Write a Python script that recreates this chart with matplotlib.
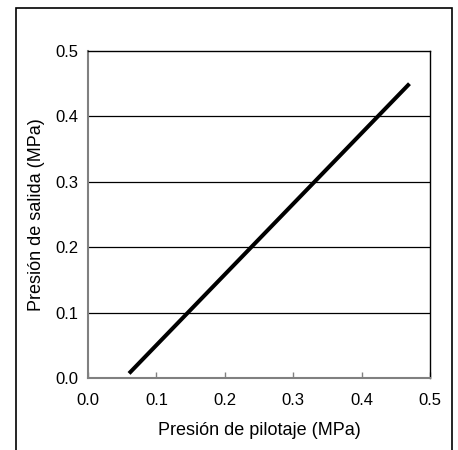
import matplotlib
matplotlib.use("Agg")
import matplotlib.pyplot as plt
from matplotlib.patches import Rectangle

# pilot pressure vs output pressure
pilot_mpa = [0.06, 0.47]
output_mpa = [0.007, 0.45]

x_ticks = [0.0, 0.1, 0.2, 0.3, 0.4, 0.5]
y_ticks = [0.0, 0.1, 0.2, 0.3, 0.4, 0.5]

plt.rcParams['font.family'] = ['Liberation Sans', 'DejaVu Sans']

fig = plt.figure(figsize=(4.58, 4.5), dpi=100)

# outer frame round the chart (bottom edge runs off the picture)
frame = Rectangle((16 / 458, -0.05), (452 - 16) / 458, 1 - 8 / 450 + 0.05,
                  transform=fig.transFigure, fill=False, edgecolor='black',
                  linewidth=1.2, zorder=0)
fig.patches.append(frame)

ax = fig.add_axes([88 / 458, 1 - 378 / 450, (430 - 88) / 458, (378 - 51) / 450])

for y in y_ticks[1:-1]:
    ax.axhline(y, color='black', linewidth=0.9, zorder=1)

ax.plot(pilot_mpa, output_mpa, color='black', linewidth=2.9,
        solid_capstyle='butt', zorder=3)

ax.set_xlim(0, 0.5)
ax.set_ylim(0, 0.5)
ax.set_xticks(x_ticks)
ax.set_yticks(y_ticks)
ax.set_xticklabels([f"{t:.1f}" for t in x_ticks])
ax.set_yticklabels([f"{t:.1f}" for t in y_ticks])

ax.tick_params(axis='x', direction='in', length=4, width=1, color='#808080',
               labelsize=12, pad=11)
ax.tick_params(axis='y', length=0, labelsize=12, pad=7)

ax.spines['top'].set_color('black')
ax.spines['right'].set_color('black')
ax.spines['left'].set_color('#808080')
ax.spines['bottom'].set_color('#808080')
ax.spines['left'].set_linewidth(1.5)
ax.spines['bottom'].set_linewidth(1.5)
ax.spines['top'].set_linewidth(1.0)
ax.spines['right'].set_linewidth(1.0)

ax.set_xlabel('Presión de pilotaje (MPa)', fontsize=13, labelpad=10)
ax.set_ylabel('Presión de salida (MPa)', fontsize=13, labelpad=7)

fig.savefig('out.png', dpi=100)
